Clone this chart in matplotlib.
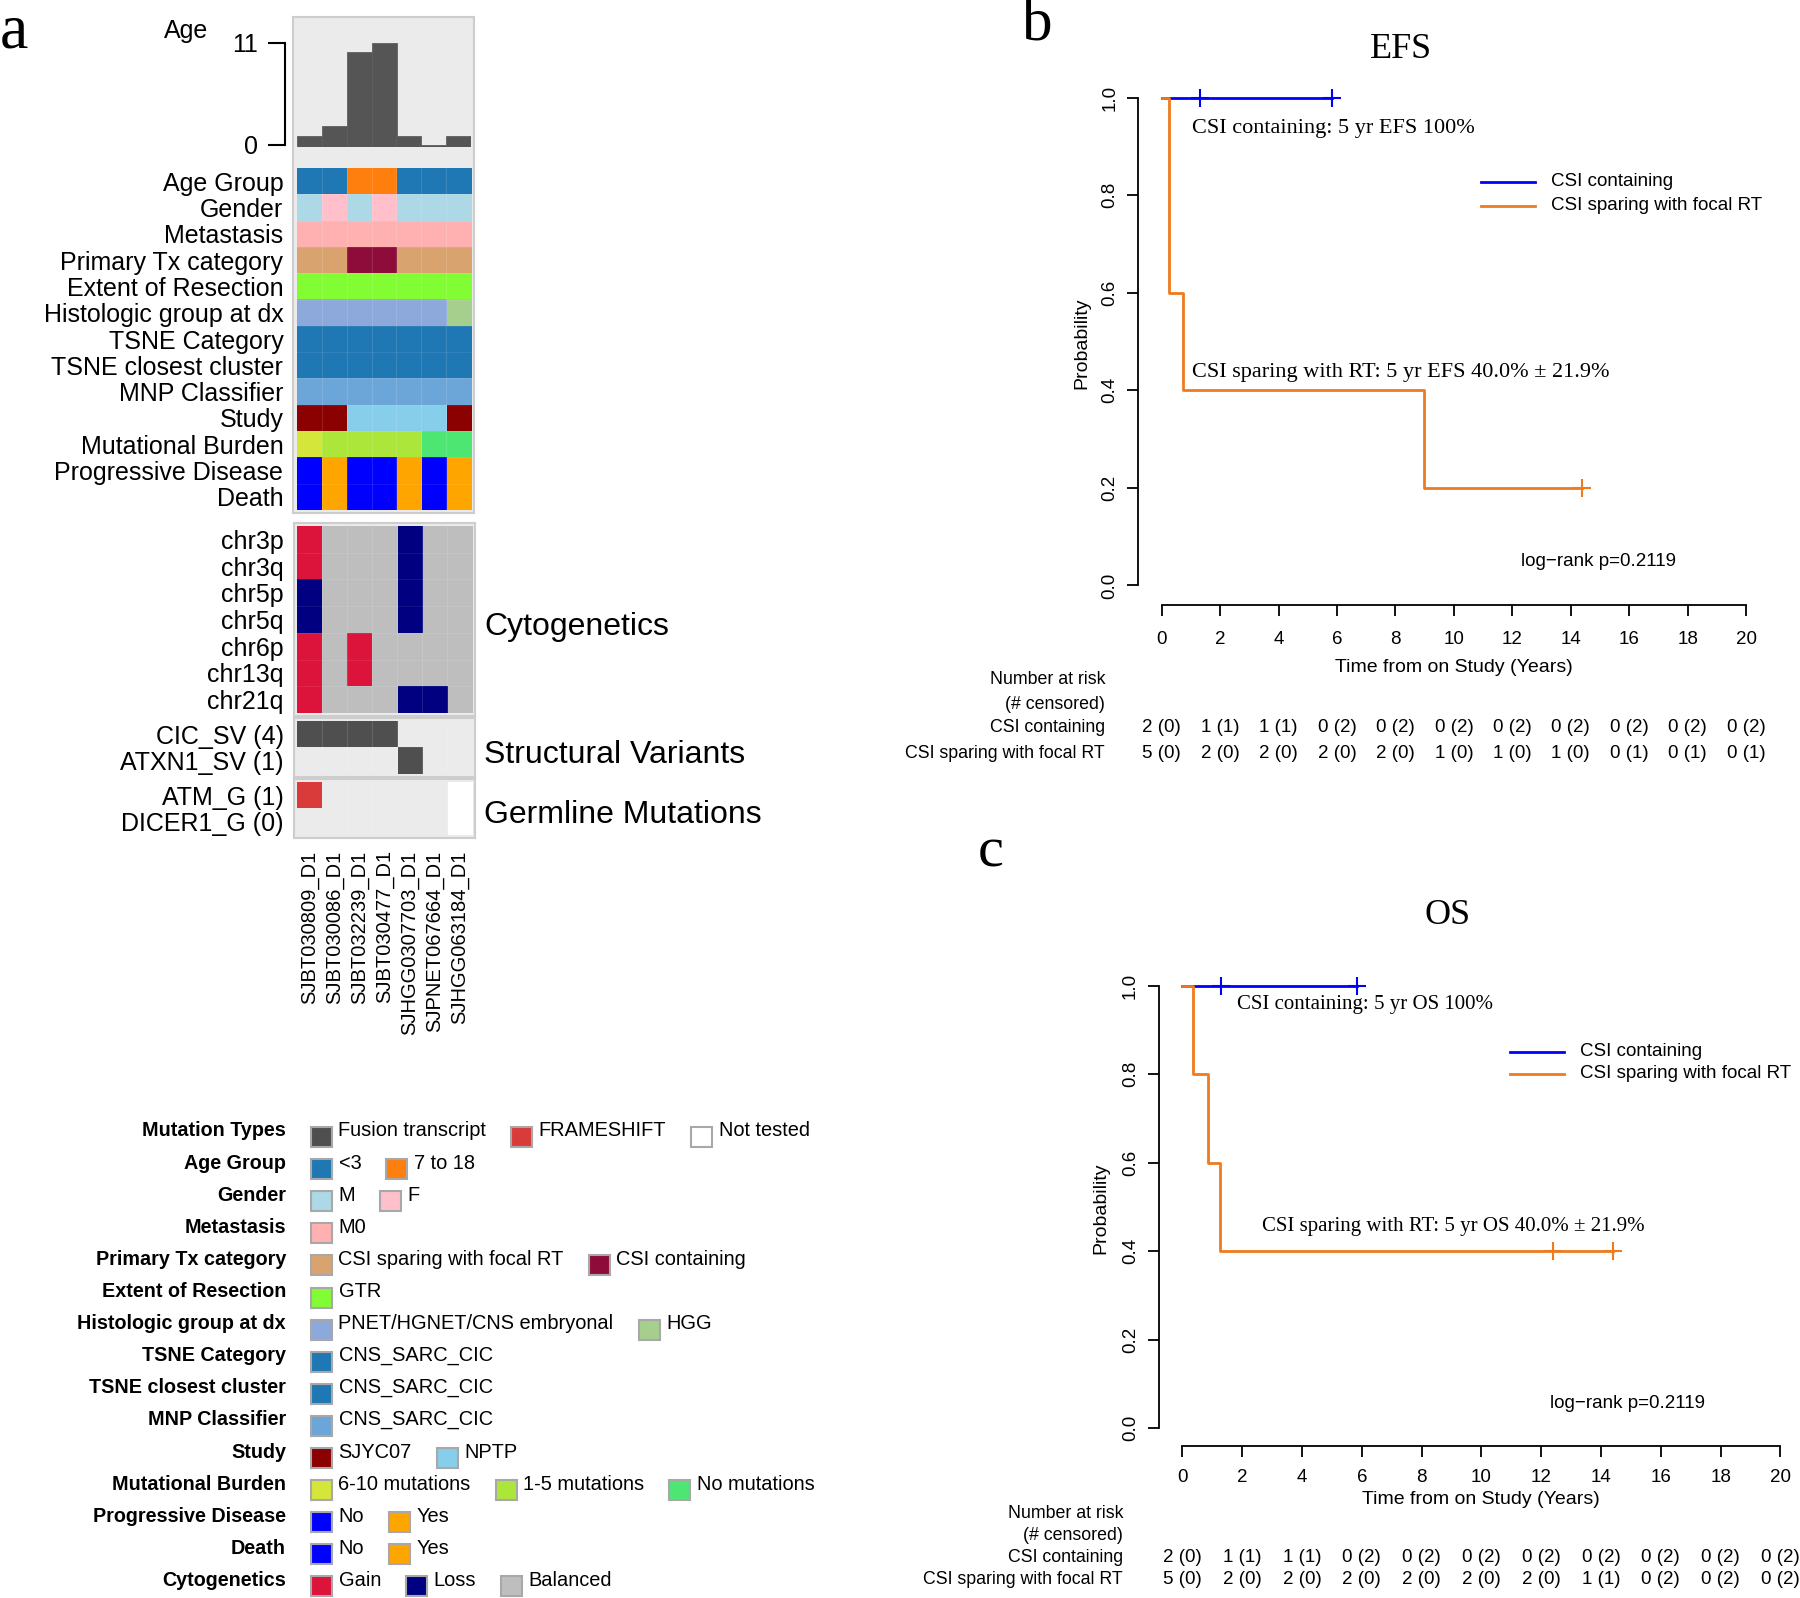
import matplotlib
matplotlib.use("Agg")
import matplotlib.pyplot as plt
import numpy as np
from matplotlib.colors import to_rgb
from matplotlib.lines import Line2D
from matplotlib.patches import Rectangle
from matplotlib.transforms import blended_transform_factory

W, H, DPI = 1800, 1598, 100
plt.rcParams['font.family'] = ['Liberation Sans', 'DejaVu Sans']
SERIF = ['Liberation Serif', 'DejaVu Serif']

# ==== Panel a data ====
samples = ["SJBT030809_D1", "SJBT030086_D1", "SJBT032239_D1", "SJBT030477_D1",
           "SJHGG0307703_D1", "SJPNET067664_D1", "SJHGG063184_D1"]
age = [1, 2, 10, 11, 1, 0, 1]

age_group = ["<3", "<3", "7 to 18", "7 to 18", "<3", "<3", "<3"]
gender = ["M", "F", "M", "F", "M", "M", "M"]
metastasis = ["M0"] * 7
primary_tx = ["CSI sparing with focal RT", "CSI sparing with focal RT", "CSI containing",
              "CSI containing", "CSI sparing with focal RT", "CSI sparing with focal RT",
              "CSI sparing with focal RT"]
resection = ["GTR"] * 7
histology = ["PNET/HGNET/CNS embryonal"] * 6 + ["HGG"]
tsne_category = ["CNS_SARC_CIC"] * 7
tsne_cluster = ["CNS_SARC_CIC"] * 7
mnp_class = ["CNS_SARC_CIC"] * 7
study = ["SJYC07", "SJYC07", "NPTP", "NPTP", "NPTP", "NPTP", "SJYC07"]
burden = ["6-10 mutations", "1-5 mutations", "1-5 mutations", "1-5 mutations",
          "1-5 mutations", "No mutations", "No mutations"]
progression = ["No", "Yes", "No", "No", "Yes", "No", "Yes"]
death = ["No", "Yes", "No", "No", "Yes", "No", "Yes"]

cyto_names = ["chr3p", "chr3q", "chr5p", "chr5q", "chr6p", "chr13q", "chr21q"]
cyto_calls = [
    ["Gain", "Balanced", "Balanced", "Balanced", "Loss", "Balanced", "Balanced"],
    ["Gain", "Balanced", "Balanced", "Balanced", "Loss", "Balanced", "Balanced"],
    ["Loss", "Balanced", "Balanced", "Balanced", "Loss", "Balanced", "Balanced"],
    ["Loss", "Balanced", "Balanced", "Balanced", "Loss", "Balanced", "Balanced"],
    ["Gain", "Balanced", "Gain", "Balanced", "Balanced", "Balanced", "Balanced"],
    ["Gain", "Balanced", "Gain", "Balanced", "Balanced", "Balanced", "Balanced"],
    ["Gain", "Balanced", "Balanced", "Balanced", "Loss", "Loss", "Balanced"],
]

sv_names = ["CIC_SV (4)", "ATXN1_SV (1)"]
sv_calls = [
    ["Fusion transcript"] * 4 + [None] * 3,
    [None] * 4 + ["Fusion transcript"] + [None] * 2,
]
germ_names = ["ATM_G (1)", "DICER1_G (0)"]
germ_calls = [
    ["FRAMESHIFT", None, None, None, None, None, "Not tested"],
    [None, None, None, None, None, None, "Not tested"],
]

# ==== Colour maps ====
MUT_COLORS = {"Fusion transcript": "#4F4F4F", "FRAMESHIFT": "#D93B3B", "Not tested": "#FFFFFF"}
CYTO_COLORS = {"Gain": "#DC143C", "Loss": "#000080", "Balanced": "#BEBEBE"}
clinical = [
    ("Age Group", age_group, {"<3": "#1F77B4", "7 to 18": "#FF7F0E"}),
    ("Gender", gender, {"M": "#ADD8E6", "F": "#FFC0CB"}),
    ("Metastasis", metastasis, {"M0": "#FFB1B1"}),
    ("Primary Tx category", primary_tx, {"CSI sparing with focal RT": "#D9A36F",
                                         "CSI containing": "#8E0C3A"}),
    ("Extent of Resection", resection, {"GTR": "#82FC33"}),
    ("Histologic group at dx", histology, {"PNET/HGNET/CNS embryonal": "#8DA8DB",
                                           "HGG": "#A6CF8E"}),
    ("TSNE Category", tsne_category, {"CNS_SARC_CIC": "#1F77B4"}),
    ("TSNE closest cluster", tsne_cluster, {"CNS_SARC_CIC": "#1F77B4"}),
    ("MNP Classifier", mnp_class, {"CNS_SARC_CIC": "#6CA6D8"}),
    ("Study", study, {"SJYC07": "#8B0000", "NPTP": "#87CEEB"}),
    ("Mutational Burden", burden, {"6-10 mutations": "#D4E639", "1-5 mutations": "#ADE63A",
                                   "No mutations": "#4DE673"}),
    ("Progressive Disease", progression, {"No": "#0000FF", "Yes": "#FFA500"}),
    ("Death", death, {"No": "#0000FF", "Yes": "#FFA500"}),
]

# ==== Panels b/c data ====
time_ticks = np.arange(0, 21, 2)
efs_csi_time, efs_csi_surv, efs_csi_cens = [0.0, 5.84], [1.0, 1.0], [1.30, 5.84]
efs_spare_time = [0.0, 0.25, 0.74, 8.98, 14.39]
efs_spare_surv = [1.0, 0.6, 0.4, 0.2, 0.2]
efs_spare_cens = [14.39]
os_csi_time, os_csi_surv, os_csi_cens = [0.0, 5.84], [1.0, 1.0], [1.30, 5.84]
os_spare_time = [0.0, 0.37, 0.86, 1.27, 14.39]
os_spare_surv = [1.0, 0.8, 0.6, 0.4, 0.4]
os_spare_cens = [12.39, 14.39]

efs_csi_risk = [2, 1, 1, 0, 0, 0, 0, 0, 0, 0, 0]
efs_csi_censored = [0, 1, 1, 2, 2, 2, 2, 2, 2, 2, 2]
efs_spare_risk = [5, 2, 2, 2, 2, 1, 1, 1, 0, 0, 0]
efs_spare_censored = [0, 0, 0, 0, 0, 0, 0, 0, 1, 1, 1]
os_csi_risk = [2, 1, 1, 0, 0, 0, 0, 0, 0, 0, 0]
os_csi_censored = [0, 1, 1, 2, 2, 2, 2, 2, 2, 2, 2]
os_spare_risk = [5, 2, 2, 2, 2, 2, 2, 1, 0, 0, 0]
os_spare_censored = [0, 0, 0, 0, 0, 0, 0, 1, 2, 2, 2]

BLUE, ORANGE = "#0000FF", "#F07A1E"
BOX_BG, BOX_EDGE = "#EBEBEB", "#CDCDCD"

fig = plt.figure(figsize=(W / DPI, H / DPI), dpi=DPI)


def px_axes(x0, y0, x1, y1):
    return fig.add_axes([x0 / W, 1 - y1 / H, (x1 - x0) / W, (y1 - y0) / H])


def ftext(x, y, s, **kw):
    return fig.text(x / W, 1 - y / H, s, **kw)


def grey_box(x0, y0, x1, y1):
    ax = px_axes(x0, y0, x1, y1)
    ax.set_facecolor(BOX_BG)
    ax.set_xticks([])
    ax.set_yticks([])
    for sp in ax.spines.values():
        sp.set_color(BOX_EDGE)
        sp.set_linewidth(1.5)
    return ax


def draw_cells(ax, rows, palettes, names, bg=BOX_BG):
    nrow, ncol = len(rows), len(rows[0])
    rgb = np.array([[to_rgb(pal[v]) if v is not None else to_rgb(bg) for v in row]
                    for row, pal in zip(rows, palettes)])
    ax.imshow(rgb, aspect='auto', interpolation='nearest', extent=(0, ncol, nrow, 0))
    for k in range(1, ncol):
        ax.axvline(k, color='white', alpha=0.12, lw=0.8)
    for k in range(1, nrow):
        ax.axhline(k, color='white', alpha=0.08, lw=0.8)
    ax.set_facecolor('none')
    for sp in ax.spines.values():
        sp.set_visible(False)
    ax.set_xticks([])
    ax.set_yticks(np.arange(nrow) + 0.5, labels=names)
    ax.tick_params(axis='y', length=0, pad=9.5, labelsize=18)


# ==== Panel a ====
ftext(0, 47, "a", family=SERIF, fontsize=46, va='baseline')
grey_box(293, 17, 474, 513)

ax_age = px_axes(296.5, 42, 471.5, 147)
ymin = -0.22
ax_age.bar(np.arange(len(age)) + 0.5, np.array(age) - ymin, bottom=ymin, width=1.0,
           color='#555555', edgecolor='#5F5F5F', lw=0.6)
ax_age.set_xlim(0, len(age))
ax_age.set_ylim(ymin, 11.1)
ax_age.set_facecolor('none')
for side in ['top', 'right', 'bottom']:
    ax_age.spines[side].set_visible(False)
ax_age.spines['left'].set_position(('outward', 8.3))
ax_age.spines['left'].set_bounds(0, 11)
ax_age.spines['left'].set_linewidth(1.5)
ax_age.set_xticks([])
ax_age.set_yticks([0, 11])
ax_age.tick_params(axis='y', length=12.2, width=1.5, pad=7, labelsize=18)
ftext(186, 31, "Age", ha='center', va='center', fontsize=18)

ax_clin = px_axes(296.5, 168, 471.5, 510)
draw_cells(ax_clin, [t[1] for t in clinical], [t[2] for t in clinical],
           [t[0] for t in clinical])

grey_box(294, 523, 475, 716)
ax_cyto = px_axes(297, 526, 472, 713)
draw_cells(ax_cyto, cyto_calls, [CYTO_COLORS] * len(cyto_calls), cyto_names)

grey_box(294, 718, 475, 777)
ax_sv = px_axes(297, 721, 472, 774)
draw_cells(ax_sv, sv_calls, [MUT_COLORS] * 2, sv_names)

grey_box(294, 779, 475, 838)
ax_germ = px_axes(297, 782, 472, 835)
draw_cells(ax_germ, germ_calls, [MUT_COLORS] * 2, germ_names)
ax_germ.set_xticks(np.arange(len(samples)) + 0.5, labels=samples)
ax_germ.tick_params(axis='x', length=0, pad=11, labelsize=14.5, labelrotation=90)

ftext(484, 627, "Cytogenetics", va='center', fontsize=23)
ftext(484, 755, "Structural Variants", va='center', fontsize=23)
ftext(484, 815, "Germline Mutations", va='center', fontsize=23)

# legend
legend_rows = [("Mutation Types", MUT_COLORS)] + [(n, p) for n, _, p in clinical] + \
              [("Cytogenetics", CYTO_COLORS)]
renderer = fig.canvas.get_renderer()
for i, (title, pal) in enumerate(legend_rows):
    y = 1131 + 32.1 * i
    ftext(286, y, title, ha='right', va='center', weight='bold', fontsize=14.2)
    x = 311
    for lab, col in pal.items():
        fig.add_artist(Rectangle((x / W, 1 - (y + 16) / H), 21 / W, 20 / H,
                                 transform=fig.transFigure, fc=col, ec='#A8A8A8', lw=1.5))
        t = ftext(x + 27.5, y, lab, ha='left', va='center', fontsize=14.4)
        x = t.get_window_extent(renderer).x1 + 25


# ==== Panels b and c ====
def km_panel(ax, curves, censors):
    for (tm, sv, col), cens in zip(curves, censors):
        ax.step(tm, sv, where='post', color=col, lw=2.0)
        tm_a, sv_a = np.array(tm), np.array(sv)
        cy = [sv_a[np.searchsorted(tm_a, c, side='right') - 1] for c in cens]
        ax.plot(cens, cy, ls='none', marker='+', ms=13, mew=1.5, color=col)
    ax.set_xlim(-0.8, 20.8)
    ax.set_ylim(-0.04, 1.04)
    ax.spines['top'].set_visible(False)
    ax.spines['right'].set_visible(False)
    ax.spines['left'].set_bounds(0, 1)
    ax.spines['bottom'].set_bounds(0, 20)
    for sp in ['left', 'bottom']:
        ax.spines[sp].set_linewidth(1.3)
    ax.set_xticks(time_ticks)
    yt = np.arange(0, 1.01, 0.2)
    ax.set_yticks(yt, labels=[f"{v:.1f}" for v in yt])
    ax.tick_params(length=7.7, width=1.3, labelsize=13.5)
    ax.tick_params(axis='y', pad=6.5)
    for lab in ax.get_yticklabels():
        lab.set_rotation(90)
        lab.set_va('center')
    ax.set_facecolor('none')


def risk_table(ax, rows_y, label_x, counts):
    tr = blended_transform_factory(ax.transData, fig.transFigure)
    labels = ["Number at risk", "(# censored)", "CSI containing", "CSI sparing with focal RT"]
    for lab, y in zip(labels, rows_y):
        ftext(label_x, y, lab, ha='right', va='center', fontsize=12.8)
    for (n_risk, n_cens), y in zip(counts, rows_y[2:]):
        for t, n, c in zip(time_ticks, n_risk, n_cens):
            ax.text(t, 1 - y / H, f"{n} ({c})", transform=tr, ha='center', va='center',
                    fontsize=13.5)


def km_legend(x0, x1, xt, ys):
    for (lab, col), y in zip([("CSI containing", BLUE), ("CSI sparing with focal RT", ORANGE)], ys):
        fig.add_artist(Line2D([x0 / W, x1 / W], [1 - y / H] * 2, transform=fig.transFigure,
                              color=col, lw=2.0))
        ftext(xt, y, lab, va='center', fontsize=13.5)


# EFS
ftext(1022, 40, "b", family=SERIF, fontsize=44, va='baseline')
ftext(1401, 50, "EFS", family=SERIF, fontsize=26, ha='center', va='center')
ax_efs = px_axes(1138.4, 78, 1769.4, 605)
km_panel(ax_efs, [(efs_csi_time, efs_csi_surv, BLUE), (efs_spare_time, efs_spare_surv, ORANGE)],
         [efs_csi_cens, efs_spare_cens])
ax_efs.tick_params(axis='x', pad=11)
ftext(1082, 343, "Probability", rotation=90, ha='center', va='center', fontsize=14)
ftext(1454, 668, "Time from on Study (Years)", ha='center', va='center', fontsize=14)
ftext(1192, 128, "CSI containing: 5 yr EFS 100%", family=SERIF, fontsize=16, va='center')
ftext(1192, 372, "CSI sparing with RT: 5 yr EFS 40.0% \u00b1 21.9%", family=SERIF,
      fontsize=16, va='center')
ftext(1521, 562, "log\u2212rank p=0.2119", va='center', fontsize=13.5)
km_legend(1481, 1535, 1551, [182, 206])
risk_table(ax_efs, [679, 704, 728, 753], 1105,
           [(efs_csi_risk, efs_csi_censored), (efs_spare_risk, efs_spare_censored)])

# OS
ftext(978, 867, "c", family=SERIF, fontsize=42, va='baseline')
ftext(1448, 915, "OS", family=SERIF, fontsize=26, ha='center', va='center')
ax_os = px_axes(1158.5, 968, 1804.4, 1446)
km_panel(ax_os, [(os_csi_time, os_csi_surv, BLUE), (os_spare_time, os_spare_surv, ORANGE)],
         [os_csi_cens, os_spare_cens])
ax_os.tick_params(axis='x', pad=9)
ftext(1101, 1208, "Probability", rotation=90, ha='center', va='center', fontsize=14)
ftext(1481, 1500, "Time from on Study (Years)", ha='center', va='center', fontsize=14)
ftext(1237, 1004, "CSI containing: 5 yr OS 100%", family=SERIF, fontsize=15, va='center')
ftext(1262, 1226, "CSI sparing with RT: 5 yr OS 40.0% \u00b1 21.9%", family=SERIF,
      fontsize=15, va='center')
ftext(1550, 1404, "log\u2212rank p=0.2119", va='center', fontsize=13.5)
km_legend(1510, 1564, 1580, [1052, 1074])
risk_table(ax_os, [1513, 1535, 1557, 1579], 1123,
           [(os_csi_risk, os_csi_censored), (os_spare_risk, os_spare_censored)])

fig.savefig("out.png", dpi=DPI)
